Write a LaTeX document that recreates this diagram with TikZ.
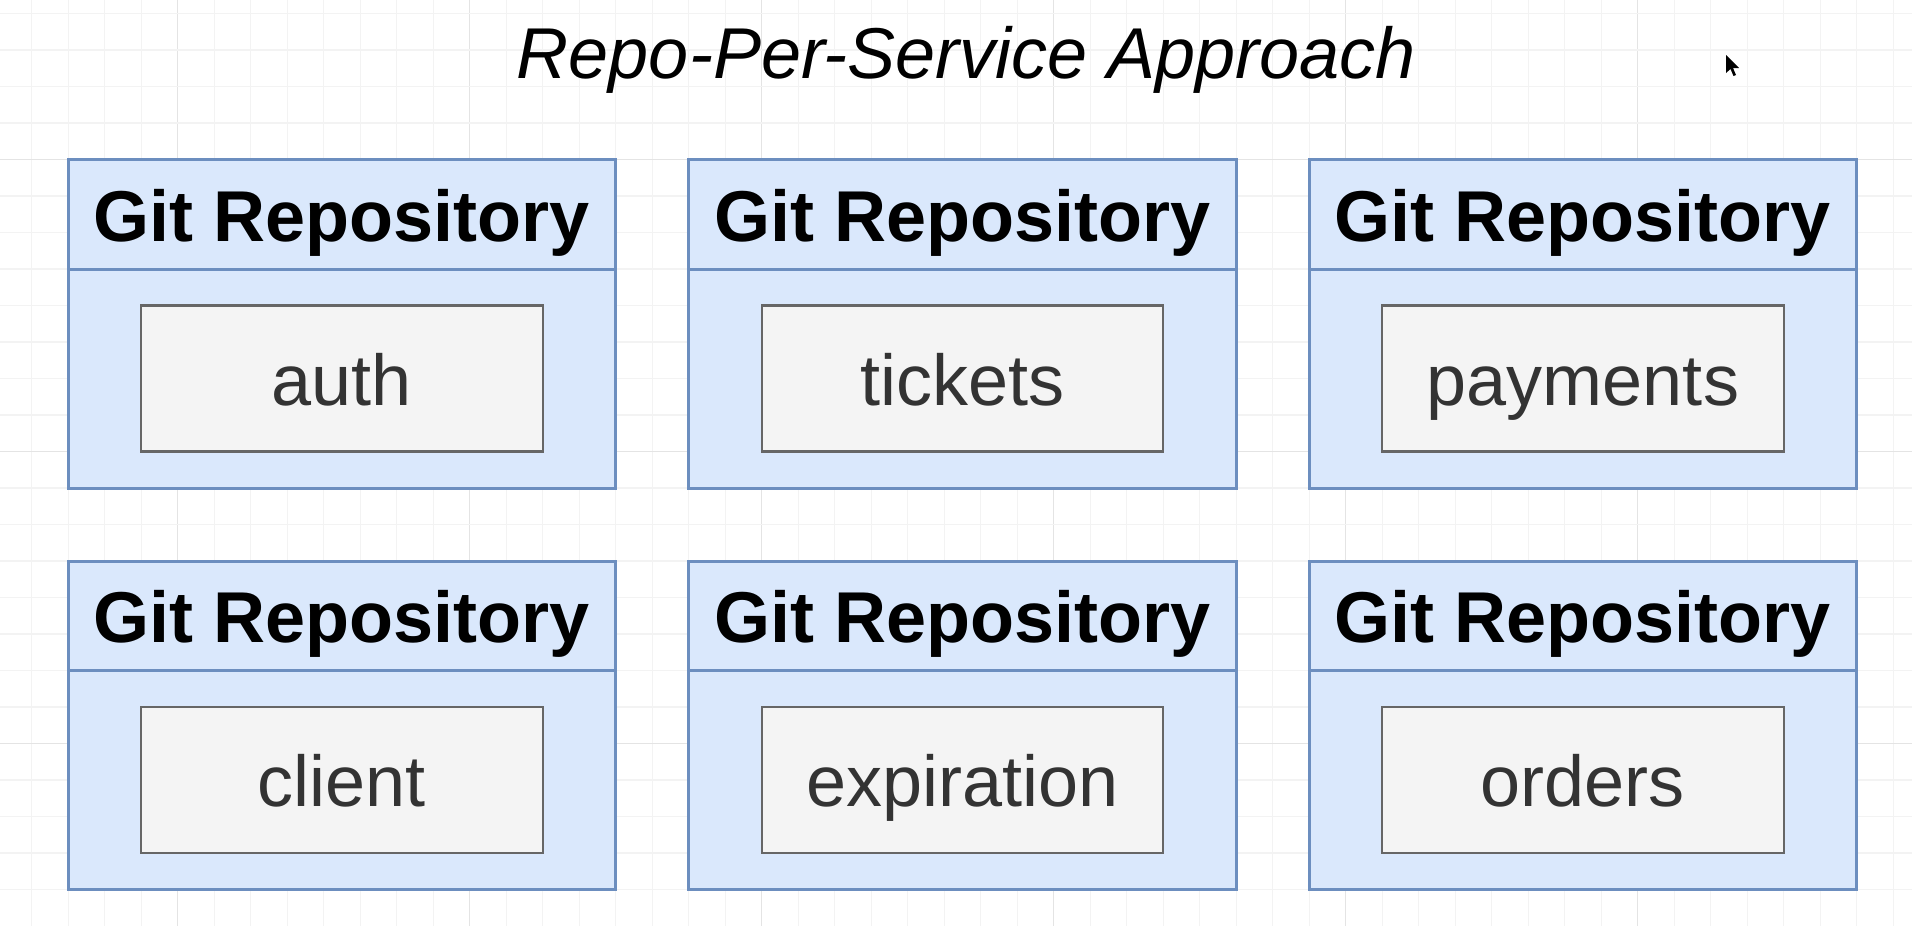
\documentclass[tikz,border=0pt]{standalone}
\usepackage{fontspec}
\setmainfont{Liberation Sans}
\definecolor{repoFill}{HTML}{DAE8FC}
\definecolor{repoLine}{HTML}{6C8EBF}
\definecolor{svcFill}{HTML}{F4F4F4}
\definecolor{svcLine}{HTML}{666666}
\definecolor{svcText}{HTML}{333333}
\definecolor{gridMinor}{HTML}{F3F3F3}
\definecolor{gridMajor}{HTML}{E4E4E4}
\tikzset{
  repobox/.style={draw=repoLine, fill=repoFill, line width=1.5pt, inner sep=0pt,
    minimum width=273.75pt, minimum height=164.25pt},
  hdrbox/.style={draw=repoLine, line width=1.5pt, inner sep=0pt, anchor=north,
    minimum width=273.75pt, minimum height=54.75pt,
    font=\fontsize{36}{40}\selectfont\bfseries, text height=27pt, text depth=0pt},
  svcbox/.style={draw=svcLine, fill=svcFill, line width=1.2pt, inner sep=0pt,
    minimum width=200.75pt, minimum height=73pt, text=svcText,
    font=\fontsize{36}{40}\selectfont, text height=26.5pt, text depth=0pt},
  titletext/.style={font=\fontsize{36}{40}\selectfont\itshape, anchor=base, inner sep=0pt},
}
\begin{document}
\begin{tikzpicture}[x=0.5pt,y=-0.5pt]
\useasboundingbox (0,0) rectangle (1912,926);
\fill[white] (0,0) rectangle (1912,926);
% grid
\foreach \i in {0,...,51}{
  \pgfmathtruncatemacro{\m}{mod(\i,8)}
  \ifnum\m=4 \def\gc{gridMajor}\else\def\gc{gridMinor}\fi
  \draw[\gc, line width=0.6pt] ({31.7+\i*36.5},0) -- ({31.7+\i*36.5},926);
}
\foreach \j in {0,...,24}{
  \pgfmathtruncatemacro{\m}{mod(\j,8)}
  \ifnum\m=4 \def\gc{gridMajor}\else\def\gc{gridMinor}\fi
  \draw[\gc, line width=0.6pt] (0,{13.5+\j*36.5}) -- (1912,{13.5+\j*36.5});
}
% title
\node[titletext] (title) at (966.5,78) {Repo-Per-Service Approach};
% repositories
\foreach \n/\i/\j/\name in {1/1/4/auth, 2/18/4/tickets, 3/35/4/payments,
                            4/1/15/client, 5/18/15/expiration, 6/35/15/orders}{
  \node[repobox] (repo\n) at ({31.7+(\i+7.5)*36.5},{13.5+(\j+4.5)*36.5}) {};
  \node[hdrbox] (hdr\n) at (repo\n.north) {Git Repository};
  \node[svcbox] (svc\n) at ({31.7+(\i+7.5)*36.5},{13.5+(\j+6)*36.5}) {\name};
}
% mouse cursor
\fill[black] (1726,55) -- (1726,73) -- (1730.5,69) -- (1733.5,76) -- (1736,75) -- (1733,68) -- (1739,68) -- cycle;
\end{tikzpicture}
\end{document}
